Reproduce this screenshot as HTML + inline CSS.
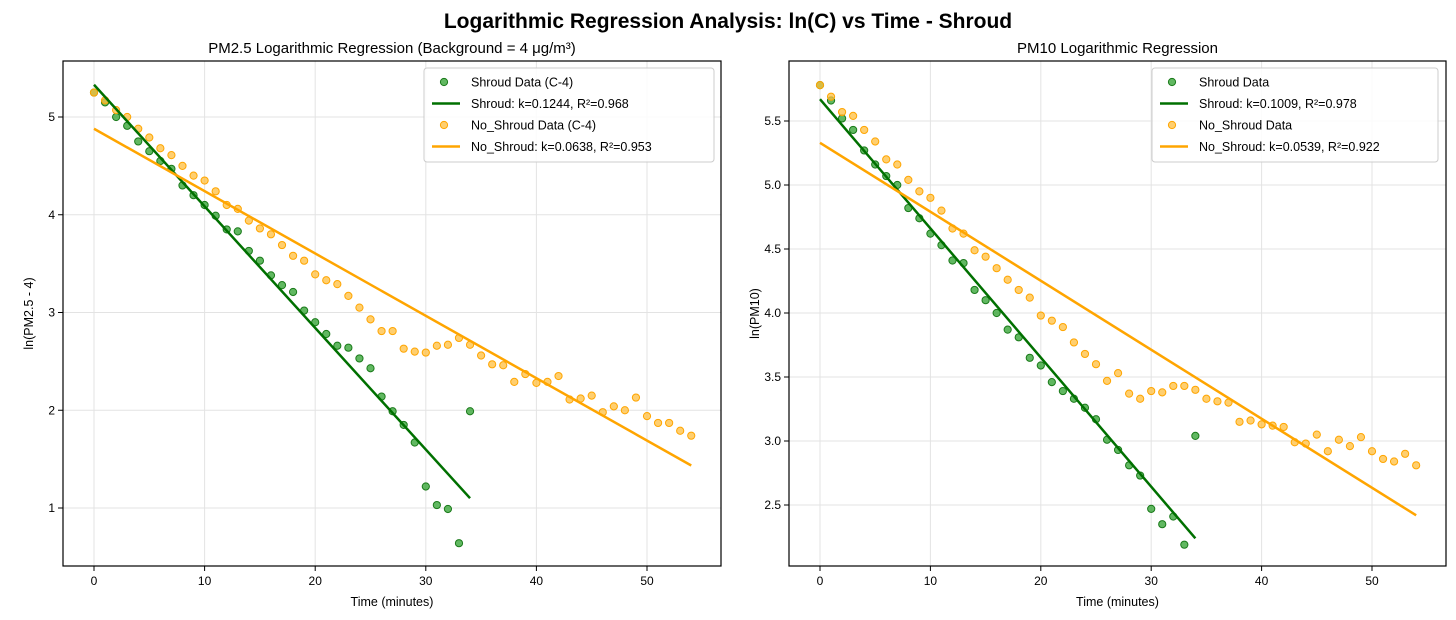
<!DOCTYPE html>
<html><head><meta charset="utf-8"><style>
body{margin:0;background:#fff;}
svg{display:block;font-family:"Liberation Sans","DejaVu Sans",sans-serif;}
</style></head><body>
<svg id="chart" width="1456" height="620">
<text x="728" y="28" text-anchor="middle" font-size="21" font-weight="bold">Logarithmic Regression Analysis: ln(C) vs Time - Shroud</text>
</svg>
<script>
const pm25Shroud=[5.25,5.15,5.0,4.91,4.75,4.65,4.55,4.47,4.3,4.2,4.1,3.99,3.85,3.83,3.63,3.53,3.38,3.28,3.21,3.02,2.9,2.78,2.66,2.64,2.53,2.43,2.14,1.99,1.85,1.67,1.22,1.03,0.99,0.64,1.99];
const pm25NoShroud=[5.25,5.17,5.07,5.0,4.88,4.79,4.68,4.61,4.5,4.4,4.35,4.24,4.1,4.06,3.94,3.86,3.8,3.69,3.58,3.53,3.39,3.33,3.29,3.17,3.05,2.93,2.81,2.81,2.63,2.6,2.59,2.66,2.67,2.74,2.67,2.56,2.47,2.46,2.29,2.37,2.28,2.29,2.35,2.11,2.12,2.15,1.98,2.04,2.0,2.13,1.94,1.87,1.87,1.79,1.74];
const pm10Shroud=[5.78,5.66,5.52,5.43,5.27,5.16,5.07,5.0,4.82,4.74,4.62,4.53,4.41,4.39,4.18,4.1,4.0,3.87,3.81,3.65,3.59,3.46,3.39,3.33,3.26,3.17,3.01,2.93,2.81,2.73,2.47,2.35,2.41,2.19,3.04];
const pm10NoShroud=[5.78,5.69,5.57,5.54,5.43,5.34,5.2,5.16,5.04,4.95,4.9,4.8,4.66,4.62,4.49,4.44,4.35,4.26,4.18,4.12,3.98,3.94,3.89,3.77,3.68,3.6,3.47,3.53,3.37,3.33,3.39,3.38,3.43,3.43,3.4,3.33,3.31,3.3,3.15,3.16,3.13,3.12,3.11,2.99,2.98,3.05,2.92,3.01,2.96,3.03,2.92,2.86,2.84,2.9,2.81];
const pm25Fit=[[5.33,0.1244,34],[4.88,0.0638,54]];
const pm10Fit=[[5.67,0.1009,34],[5.33,0.0539,54]];
const xTicks=[0,10,20,30,40,50];
const pm25YTicks=[1,2,3,4,5];
const pm10YTicks=[2.5,3.0,3.5,4.0,4.5,5.0,5.5];
const legend25=["Shroud Data (C-4)","Shroud: k=0.1244, R²=0.968","No_Shroud Data (C-4)","No_Shroud: k=0.0638, R²=0.953"];
const legend10=["Shroud Data","Shroud: k=0.1009, R²=0.978","No_Shroud Data","No_Shroud: k=0.0539, R²=0.922"];
const NS="http://www.w3.org/2000/svg";
const svg=document.getElementById('chart');
function mk(tag,attrs,parent){const e=document.createElementNS(NS,tag);for(const k in attrs)e.setAttribute(k,attrs[k]);(parent||svg).appendChild(e);return e;}
function panel(o){
 const g=mk('g',{});
 
 
 const X=v=>o.x0px+v*o.xs, Y=v=>o.y0px-(v-o.y0v)*o.ys;
 xTicks.forEach(t=>{mk('line',{x1:X(t),x2:X(t),y1:o.top,y2:o.bot,stroke:'#e3e3e3','stroke-width':1},g);});
 o.yTicks.forEach(t=>{mk('line',{x1:o.left,x2:o.right,y1:Y(t),y2:Y(t),stroke:'#e3e3e3','stroke-width':1},g);});
 const cols=['#007000','#ffa500'];
 [[o.s,'#2ca02c','#1a7a1a'],[o.n,'#ffbf3f','#ffa500']].forEach((d,si)=>{
  d[0].forEach((v,i)=>{const c=mk('circle',{cx:X(i),cy:Y(v),r:3.6,fill:d[1],'fill-opacity':0.75,stroke:d[2],'stroke-width':1},g);
   
   });
 });
 o.fit.forEach((f,i)=>{const l=mk('line',{x1:X(0),y1:Y(f[0]),x2:X(f[2]),y2:Y(f[0]-f[1]*f[2]),stroke:cols[i],'stroke-width':2.5},g);
  
  });
 mk('rect',{x:o.left,y:o.top,width:o.right-o.left,height:o.bot-o.top,fill:'none',stroke:'#000','stroke-width':1.2},g);
 xTicks.forEach(t=>{mk('line',{x1:X(t),x2:X(t),y1:o.bot,y2:o.bot+5,stroke:'#000'},g);
  const tx=mk('text',{x:X(t),y:o.bot+19,'text-anchor':'middle','font-size':12},g);tx.textContent=t;
  });
 o.yTicks.forEach(t=>{mk('line',{x1:o.left-5,x2:o.left,y1:Y(t),y2:Y(t),stroke:'#000'},g);
  const tx=mk('text',{x:o.left-8,y:Y(t)+4,'text-anchor':'end','font-size':12},g);tx.textContent=o.fmt(t);
  });
 const xt=mk('text',{x:(o.left+o.right)/2,y:606,'text-anchor':'middle','font-size':12.5},g);xt.textContent='Time (minutes)';
 
 const yt=mk('text',{x:0,y:0,'text-anchor':'middle','font-size':12.5,transform:`translate(${o.left-30},${(o.top+o.bot)/2}) rotate(-90)`},g);yt.textContent=o.ylabel;
 
 const tt=mk('text',{x:(o.left+o.right)/2,y:53,'text-anchor':'middle','font-size':15},g);tt.textContent=o.title;
 
 const lg=mk('g',{},g);
 
 mk('rect',{x:o.lx,y:68,width:o.lw,height:94,rx:3,fill:'#fff','fill-opacity':0.85,stroke:'#ccc'},lg);
 o.legend.forEach((s,i)=>{const y=82+i*21.5;
  if(i%2==0){mk('circle',{cx:o.lx+20,cy:y,r:3.6,fill:i?'#ffbf3f':'#2ca02c','fill-opacity':0.75,stroke:i?'#ffa500':'#1a7a1a'},lg);}
  else{mk('line',{x1:o.lx+8,x2:o.lx+36,y1:y,y2:y,stroke:i==1?'#007000':'#ffa500','stroke-width':2.5},lg);}
  const t=mk('text',{x:o.lx+47,y:y+4.5,'font-size':12.5},lg);t.textContent=s;
  });
}
panel({name:'pm25-panel',left:63,right:721,top:61,bot:566,x0px:94,xs:11.06,y0px:508,y0v:1,ys:97.75,yTicks:pm25YTicks,fmt:t=>t,s:pm25Shroud,n:pm25NoShroud,fit:pm25Fit,ylabel:'ln(PM2.5 - 4)',title:'PM2.5 Logarithmic Regression (Background = 4 μg/m³)',legend:legend25,lx:424,lw:290});
panel({name:'pm10-panel',left:789,right:1446,top:61,bot:566,x0px:820,xs:11.04,y0px:505,y0v:2.5,ys:128,yTicks:pm10YTicks,fmt:t=>t.toFixed(1),s:pm10Shroud,n:pm10NoShroud,fit:pm10Fit,ylabel:'ln(PM10)',title:'PM10 Logarithmic Regression',legend:legend10,lx:1152,lw:286});
</script>
</body></html>
